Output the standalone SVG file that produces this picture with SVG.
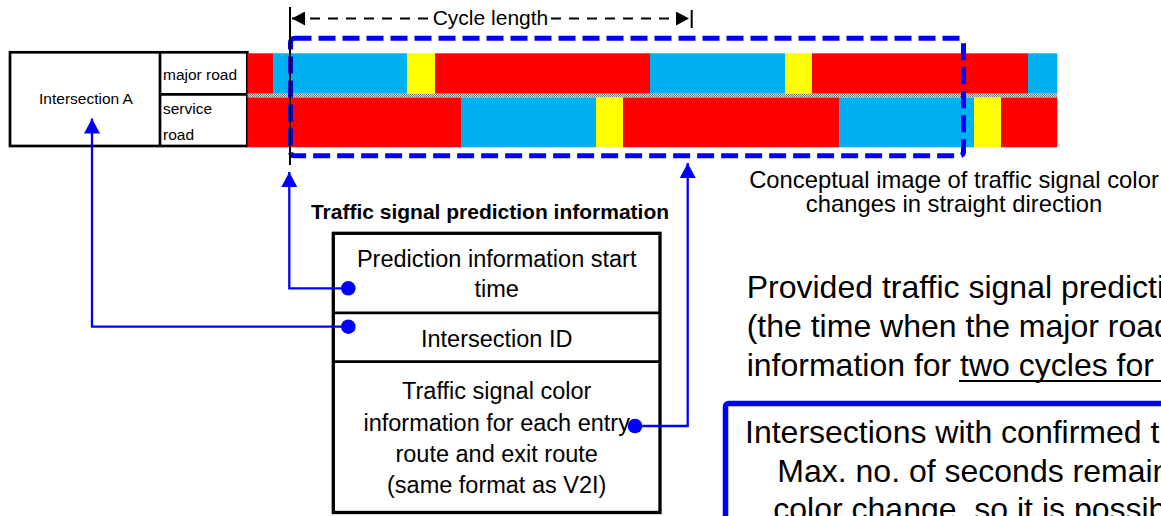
<svg xmlns="http://www.w3.org/2000/svg" width="1161" height="516" viewBox="0 0 1161 516">
<style>
text { font-family: "Liberation Sans", Arial, sans-serif; fill: #000; }
.sm { font-size: 15.5px; }
.md { font-size: 23.5px; }
.lg { font-size: 32px; }
.red { fill: #FF0000; }
.grn { fill: #00B0F0; }
.yel { fill: #FFFF00; }
.frame { fill: #fff; stroke: #000; stroke-width: 2.7; }
.conn { fill: none; stroke: #0000FF; stroke-width: 2.3; }
.dot { fill: #0000FF; }
</style>
<defs>
<pattern id="chk" width="2" height="2" patternUnits="userSpaceOnUse">
<rect width="2" height="2" fill="#d8d8d8"/>
<rect width="1" height="1" fill="#7a7a7a"/>
<rect x="1" y="1" width="1" height="1" fill="#7a7a7a"/>
</pattern>
<marker id="arr" markerUnits="userSpaceOnUse" markerWidth="16" markerHeight="16" refX="15" refY="8" orient="auto">
<path d="M0,0 L15,8 L0,16 Z" fill="#0000FF"/>
</marker>
<marker id="karr" markerUnits="userSpaceOnUse" markerWidth="14" markerHeight="14" refX="13" refY="7" orient="auto">
<path d="M0,0 L13,7 L0,14 Z" fill="#000"/>
</marker>
</defs>

<g id="intersection-table">
<rect class="frame" x="10" y="52.3" width="237.3" height="93.7"/>
<line x1="160" y1="52.3" x2="160" y2="146" stroke="#000" stroke-width="2.7"/>
<line x1="160" y1="94.3" x2="247.3" y2="94.3" stroke="#000" stroke-width="2.7"/>
<text class="sm" x="86" y="104" text-anchor="middle">Intersection A</text>
<text class="sm" x="163" y="80">major road</text>
<text class="sm" x="163" y="114">service</text>
<text class="sm" x="163" y="140">road</text>
</g>

<g id="signal-bars">
<rect class="red" x="247.5" y="53.3" width="26" height="40.4"/>
<rect class="grn" x="273.3" y="53.3" width="133.7" height="40.4"/>
<rect class="yel" x="407" y="53.3" width="28" height="40.4"/>
<rect class="red" x="435" y="53.3" width="215" height="40.4"/>
<rect class="grn" x="650" y="53.3" width="135" height="40.4"/>
<rect class="yel" x="785" y="53.3" width="27" height="40.4"/>
<rect class="red" x="812" y="53.3" width="216" height="40.4"/>
<rect class="grn" x="1028" y="53.3" width="29.3" height="40.4"/>
<rect x="247.5" y="93.7" width="809.8" height="3.8" fill="url(#chk)"/>
<rect class="red" x="247.5" y="97.5" width="213.5" height="49.8"/>
<rect class="grn" x="461" y="97.5" width="135" height="49.8"/>
<rect class="yel" x="596" y="97.5" width="27" height="49.8"/>
<rect class="red" x="623" y="97.5" width="216" height="49.8"/>
<rect class="grn" x="839" y="97.5" width="135" height="49.8"/>
<rect class="yel" x="974" y="97.5" width="27" height="49.8"/>
<rect class="red" x="1001" y="97.5" width="56.3" height="49.8"/>
</g>

<g id="cycle-window">
<rect x="290.5" y="38.3" width="673" height="117.4" rx="4" fill="none" stroke="#0000FF" stroke-width="5" stroke-dasharray="17 7"/>
</g>

<g id="cycle-length">
<line x1="290" y1="7" x2="290" y2="165" stroke="#000" stroke-width="2"/>
<line x1="691.7" y1="10" x2="691.7" y2="28" stroke="#000" stroke-width="2"/>
<line x1="428" y1="18.5" x2="292" y2="18.5" stroke="#000" stroke-width="2" stroke-dasharray="10 8" marker-end="url(#karr)"/>
<line x1="551" y1="18.5" x2="689" y2="18.5" stroke="#000" stroke-width="2" stroke-dasharray="10 8" marker-end="url(#karr)"/>
<text x="432.7" y="25" style="font-size:21px">Cycle length</text>
</g>

<g id="caption">
<text x="954" y="188" text-anchor="middle" style="font-size:23.8px">Conceptual image of traffic signal color</text>
<text x="954" y="212" text-anchor="middle" style="font-size:23.8px">changes in straight direction</text>
</g>

<g id="prediction-box">
<text x="490" y="219" text-anchor="middle" style="font-size:21px;font-weight:bold">Traffic signal prediction information</text>
<rect x="333.3" y="233.3" width="326.7" height="279.2" fill="#fff" stroke="#000" stroke-width="3.3"/>
<line x1="333.3" y1="312.8" x2="660" y2="312.8" stroke="#000" stroke-width="2.7"/>
<line x1="333.3" y1="361.7" x2="660" y2="361.7" stroke="#000" stroke-width="2.7"/>
<text class="md" x="496.7" y="266.7" text-anchor="middle">Prediction information start</text>
<text class="md" x="496.7" y="296.7" text-anchor="middle">time</text>
<text class="md" x="496.7" y="346.7" text-anchor="middle">Intersection ID</text>
<text class="md" x="496.7" y="399.3" text-anchor="middle">Traffic signal color</text>
<text class="md" x="496.7" y="430.5" text-anchor="middle">information for each entry</text>
<text class="md" x="496.7" y="461.7" text-anchor="middle">route and exit route</text>
<text class="md" x="496.7" y="493" text-anchor="middle">(same format as V2I)</text>
</g>

<g id="provided-text">
<text class="lg" x="746.7" y="298">Provided traffic signal predicti</text>
<text class="lg" x="746.7" y="337">(the time when the major road</text>
<text class="lg" x="746.7" y="376">information for <tspan>two cycles for</tspan></text>
<line x1="959" y1="381" x2="1161" y2="381" stroke="#000" stroke-width="2"/>
</g>

<g id="confirmed-box">
<rect x="725.5" y="403.5" width="500" height="200" rx="3" fill="none" stroke="#0000FF" stroke-width="5.5"/>
<text class="lg" x="745" y="443">Intersections with confirmed t</text>
<text class="lg" x="777.3" y="481.5">Max. no. of seconds remain</text>
<text class="lg" x="773.3" y="520">color change, so it is possib</text>
</g>

<g id="connectors">
<polyline class="conn" points="348.3,288.3 289.3,288.3 289.3,172" marker-end="url(#arr)"/>
<polyline class="conn" points="348.3,326.7 92,326.7 92,118.5" marker-end="url(#arr)"/>
<polyline class="conn" points="635,426 687.7,426 687.7,163" marker-end="url(#arr)"/>
<circle class="dot" cx="348.3" cy="288.3" r="7.3"/>
<circle class="dot" cx="348.3" cy="326.7" r="7.3"/>
<circle class="dot" cx="635" cy="426" r="7.3"/>
</g>
</svg>
